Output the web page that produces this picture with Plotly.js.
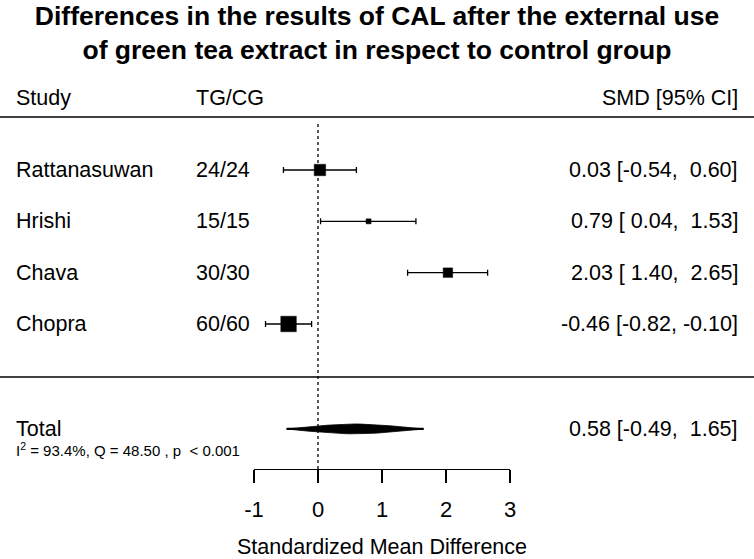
<!DOCTYPE html>
<html>
<head>
<meta charset="utf-8">
<script src="https://cdn.plot.ly/plotly-3.0.1.min.js"></script>
<style>html,body{margin:0;padding:0;background:#fff;}#chart{width:754px;height:559px;}</style>
</head>
<body>
<div id="chart"></div>
<script>
// ---- data ----
var studies = ["Rattanasuwan", "Hrishi", "Chava", "Chopra"];
var groups = ["24/24", "15/15", "30/30", "60/60"];
var smd = [0.03, 0.79, 2.03, -0.46];
var ciLow = [-0.54, 0.04, 1.40, -0.82];
var ciHigh = [0.60, 1.53, 2.65, -0.10];
var weights = [26.0, 20.0, 24.2, 29.8];   // relative study weights (%)
var totalLabel = "Total";
var totalSmd = 0.58, totalLow = -0.49, totalHigh = 1.65;
var hetText = "I<sup>2</sup> = 93.4%, Q = 48.50 , p  < 0.001";
var tickVals = [-1, 0, 1, 2, 3];
var tickText = ["-1", "0", "1", "2", "3"];

// ---- layout geometry ----
var W = 754, H = 559;
var mL = 254, mR = 244, mT = 117, mB = 90;
var plotW = W - mL - mR, plotH = H - mT - mB;
function pxX(px) { return (px - mL) / plotW; }
function pxY(py) { return (H - mB - py) / plotH; }
var rowPx = 51.33;           // px per row unit
var rowTopPx = 170;          // pixel of first study row
var yTop = 1 + (mT - rowTopPx) / rowPx, yBot = yTop + plotH / rowPx;
var rowY = studies.map(function (s, i) { return i + 1; });
var totalY = 6.045;
var hetY = 6.44;
var FONT = "Liberation Sans, Arial, sans-serif";
var fs = 21.5;

var wmin = Math.min.apply(null, weights), wmax = Math.max.apply(null, weights);
var boxSizes = weights.map(function (w) { return 5 + (w - wmin) / (wmax - wmin) * 10.5; });

function fmt(v) { var s = v.toFixed(2); return (v >= 0 ? " " : "") + s; }
function ciStr(e, l, h) { return e.toFixed(2) + " [" + fmt(l) + ", " + fmt(h) + "]"; }

var traces = [];
traces.push({
  type: "scatter", mode: "markers", x: smd, y: rowY,
  marker: { symbol: "square", size: boxSizes, color: "#000000", opacity: 1, line: { color: "#000000", width: 0.5 } },
  error_x: {
    type: "data", symmetric: false,
    array: smd.map(function (v, i) { return ciHigh[i] - v; }),
    arrayminus: smd.map(function (v, i) { return v - ciLow[i]; }),
    color: "#000000", thickness: 1.3, width: 3
  },
  cliponaxis: false, showlegend: false, hoverinfo: "skip"
});
// summary polygon (lens-shaped diamond) built from the pooled estimate and CI
var dh = 5 / rowPx, px = [], py = [], n = 24, k;
for (k = 0; k <= n; k++) {
  var t = -1 + 2 * k / n;
  var xv = t < 0 ? totalSmd + t * (totalSmd - totalLow) : totalSmd + t * (totalHigh - totalSmd);
  px.push(xv); py.push(totalY - dh * (1 - Math.pow(Math.abs(t), 1.5)));
}
for (k = n; k >= 0; k--) { px.push(px[k]); py.push(2 * totalY - py[k]); }
traces.push({
  type: "scatter", mode: "lines", x: px, y: py,
  fill: "toself", fillcolor: "#000000", line: { color: "#000000", width: 0.8 },
  showlegend: false, hoverinfo: "skip"
});
traces.push({
  type: "scatter", mode: "lines",
  x: [totalLow, totalHigh], y: [totalY, totalY],
  line: { color: "#000000", width: 2.2 }, showlegend: false, hoverinfo: "skip"
});

var ann = [];
function txt(text, xpx, anchor, y, yref, size) {
  ann.push({ text: text, x: pxX(xpx), xref: "paper", xanchor: anchor, y: y, yref: yref,
    yanchor: "middle", showarrow: false, font: { family: FONT, size: size || fs, color: "black" } });
}
// header
txt("Study", 14, "left", pxY(98), "paper");
txt("TG/CG", 194, "left", pxY(98), "paper");
txt("SMD [95% CI]", 740, "right", pxY(98), "paper");
studies.forEach(function (s, i) {
  txt(s, 14, "left", rowY[i], "y");
  txt(groups[i], 194, "left", rowY[i], "y");
  txt(ciStr(smd[i], ciLow[i], ciHigh[i]), 740, "right", rowY[i], "y");
});
txt(totalLabel, 14, "left", totalY, "y");
txt(ciStr(totalSmd, totalLow, totalHigh), 740, "right", totalY, "y");
txt(hetText, 14, "left", hetY, "y", 15);

var shapes = [
  { type: "line", xref: "paper", yref: "paper", x0: pxX(0), x1: pxX(754), y0: 1, y1: 1,
    line: { color: "black", width: 1.5 } },
  { type: "line", xref: "paper", yref: "paper", x0: pxX(0), x1: pxX(754), y0: pxY(377), y1: pxY(377),
    line: { color: "black", width: 1.5 } },
  { type: "line", xref: "x", yref: "paper", x0: 0, x1: 0, y0: 0, y1: pxY(123),
    line: { color: "black", width: 1.3, dash: "dot" }, layer: "below" }
];

var layout = {
  width: W, height: H,
  margin: { l: mL, r: mR, t: mT, b: mB, pad: 0 },
  paper_bgcolor: "white", plot_bgcolor: "white",
  font: { family: FONT, color: "black" },
  title: {
    text: "<b>Differences in the results of CAL after the external use<br>of green tea extract in respect to control group</b>",
    font: { family: FONT, size: 26.5, color: "black" },
    x: 0.5, xref: "container", xanchor: "center",
    y: 1 - 25 / H, yref: "container", yanchor: "top"
  },
  xaxis: {
    range: [-1, 3], tickvals: tickVals, ticktext: tickText, ticks: "outside", ticklen: 13,
    tickwidth: 1.3, tickcolor: "black", showline: true, linecolor: "black", linewidth: 1.3,
    showgrid: false, zeroline: false, tickfont: { family: FONT, size: 22, color: "black" },
    ticklabelstandoff: 7,
    title: { text: "Standardized Mean Difference", font: { family: FONT, size: fs, color: "black" }, standoff: 23 },
    fixedrange: true
  },
  yaxis: { range: [yBot, yTop], visible: false, showgrid: false, zeroline: false, fixedrange: true },
  showlegend: false, hovermode: false,
  annotations: ann, shapes: shapes
};

Plotly.newPlot("chart", traces, layout, { staticPlot: true, displayModeBar: false });
</script>
</body>
</html>
